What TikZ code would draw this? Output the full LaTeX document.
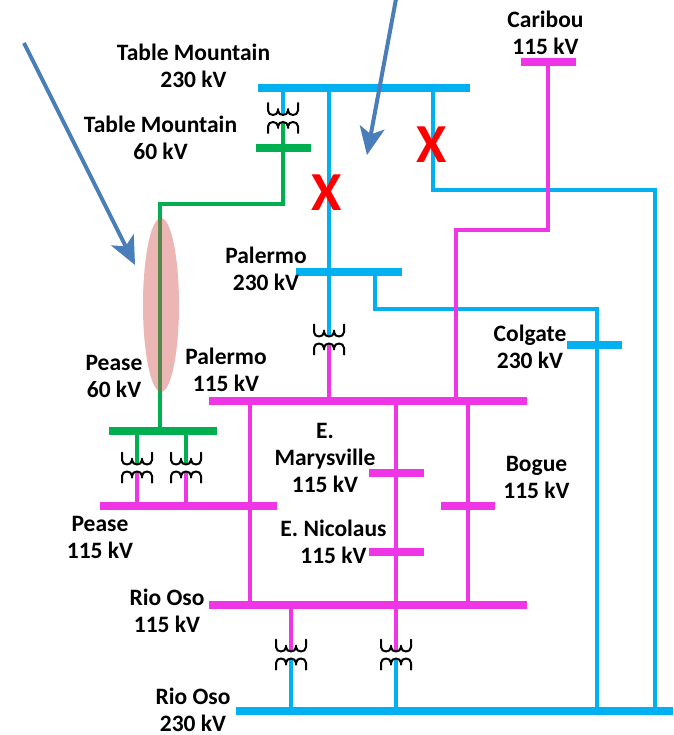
\documentclass[tikz,border=0pt]{standalone}
\usepackage{fontspec}
\setmainfont{Carlito}
\usetikzlibrary{arrows.meta,shapes.geometric}
\definecolor{cy}{HTML}{00B0F0}
\definecolor{gr}{HTML}{00B050}
\definecolor{mg}{HTML}{EE36E6}
\definecolor{bl}{HTML}{4A7EBB}
\definecolor{zonecol}{HTML}{D0504A}
\tikzset{
  bus/.style={rectangle,inner sep=0pt,minimum height=8pt,fill=#1},
  feeder/.style={draw=#1,line width=4pt,line join=miter},
  lbl/.style={font=\fontsize{23.5}{27}\selectfont\bfseries,align=center,inner sep=0pt,text=black},
  coil/.style={draw=black,line width=2pt,line cap=round,line join=round},
  pointer/.style={draw=bl,line width=4pt,-{Stealth[length=28pt,width=25pt,inset=7pt]}},
  cross/.style={font=\fontsize{55}{55}\selectfont\bfseries,text=red,inner sep=0pt},
  tfmr/.pic={
    \draw[coil] (-15,-15.5) -- (-15,-8) .. controls (-15,-2) and (-5,-2) .. (-5,-8) -- (-5,-9.5)
      (-5,-8) .. controls (-5,-2) and (5,-2) .. (5,-8) -- (5,-9.5)
      (5,-8) .. controls (5,-2) and (15,-2) .. (15,-8) -- (15,-15.5);
    \draw[coil] (-15,14.5) -- (-15,8) .. controls (-15,2) and (-5,2) .. (-5,8) -- (-5,9.5)
      (-5,8) .. controls (-5,2) and (5,2) .. (5,8) -- (5,9.5)
      (5,8) .. controls (5,2) and (15,2) .. (15,8) -- (15,14.5);
  }
}
\begin{document}
\begin{tikzpicture}[x=1pt,y=-1pt]
\useasboundingbox (0,0) rectangle (673,735);
% buses
\node[bus=cy,minimum width=212pt] (tm230) at (364,88) {};
\node[bus=gr,minimum width=55pt] (tm60) at (283.5,148) {};
\node[bus=mg,minimum width=55pt] (car) at (548.5,62) {};
\node[bus=cy,minimum width=106pt] (pal230) at (349,272) {};
\node[bus=cy,minimum width=55pt] (col) at (594.5,345) {};
\node[bus=mg,minimum width=318pt] (pal115) at (368,401) {};
\node[bus=gr,minimum width=108pt] (pe60) at (163,431) {};
\node[bus=mg,minimum width=177pt] (pe115) at (188.5,506) {};
\node[bus=mg,minimum width=55pt] (mar) at (396.5,473) {};
\node[bus=mg,minimum width=55pt] (nic) at (396.5,552) {};
\node[bus=mg,minimum width=54pt] (bog) at (468,506) {};
\node[bus=mg,minimum width=318pt] (rio115) at (368,605) {};
\node[bus=cy,minimum width=437pt] (rio230) at (454.5,711) {};
% junction coordinates at transformers
\coordinate (t1) at (283,118.5);
\coordinate (t2) at (329,340);
\coordinate (t3) at (137,468);
\coordinate (t4) at (186,468);
\coordinate (t5) at (291,655);
\coordinate (t6) at (396,655);
% cyan feeders
\draw[feeder=cy,shorten >=4pt] (283,0 |- tm230.center) -- (t1);
\draw[feeder=cy,shorten >=4pt] (329,0 |- tm230.center) -- (t2);
\draw[feeder=cy] (433,0 |- tm230.center) |- (655,190) -- (655,0 |- rio230.center);
\draw[feeder=cy] (375,0 |- pal230.center) |- (597,309) -- (597,0 |- rio230.center);
\draw[feeder=cy,shorten <=4pt] (t5) -- (291,0 |- rio230.center);
\draw[feeder=cy,shorten <=4pt] (t6) -- (396,0 |- rio230.center);
% magenta feeders
\draw[feeder=mg] (548,0 |- car.center) |- (456,230) -- (456,0 |- pal115.center);
\draw[feeder=mg,shorten <=4pt] (t2) -- (329,0 |- pal115.center);
\draw[feeder=mg] (250,0 |- pal115.center) -- (250,0 |- rio115.center);
\draw[feeder=mg,shorten >=4pt] (396,0 |- pal115.center) -- (t6);
\draw[feeder=mg] (468,0 |- pal115.center) -- (468,0 |- rio115.center);
\draw[feeder=mg,shorten >=4pt] (291,0 |- rio115.center) -- (t5);
\draw[feeder=mg,shorten <=4pt] (t3) -- (137,0 |- pe115.center);
\draw[feeder=mg,shorten <=4pt] (t4) -- (186,0 |- pe115.center);
% green feeders
\draw[feeder=gr,shorten <=4pt] (t1) -- (283,204) -| (160,0 |- pe60.center);
\draw[feeder=gr,shorten >=4pt] (137,0 |- pe60.center) -- (t3);
\draw[feeder=gr,shorten >=4pt] (186,0 |- pe60.center) -- (t4);
% transformers
\pic at (t1) {tfmr};
\pic at (t2) {tfmr};
\pic at (t3) {tfmr};
\pic at (t4) {tfmr};
\pic at (t5) {tfmr};
\pic at (t6) {tfmr};
% ellipse
\node[draw=none,fill=zonecol,fill opacity=.42,ellipse,minimum width=36pt,minimum height=174pt,inner sep=0pt] (zone) at (161,305) {};
% crosses
\node[cross] (x1) at (327,193) {X};
\node[cross] (x2) at (431.5,145) {X};
% arrows
\coordinate (a1s) at (24,43);
\coordinate (a1e) at (135,265);
\coordinate (a2s) at (396,-1);
\coordinate (a2e) at (367,155);
\draw[pointer] (a1s) -- (a1e);
\draw[pointer] (a2s) -- (a2e);
% labels
\node[lbl] (l1) at (193.5,65.5) {Table Mountain\\230 kV};
\node[lbl] (l2) at (160.5,137.5) {Table Mountain\\60 kV};
\node[lbl] (l3) at (545.5,32.5) {Caribou\\115 kV};
\node[lbl] (l4) at (266,268.5) {Palermo\\230 kV};
\node[lbl] (l5) at (530,346.5) {Colgate\\230 kV};
\node[lbl] (l6) at (114,376.5) {Pease\\60 kV};
\node[lbl] (l7) at (226,369.5) {Palermo\\115 kV};
\node[lbl] (l8) at (325,457.5) {E.\\Marysville\\115 kV};
\node[lbl] (l9) at (536.5,477.5) {Bogue\\115 kV};
\node[lbl] (l10) at (100,537.5) {Pease\\115 kV};
\node[lbl] (l11) at (333.5,541.5) {E. Nicolaus\\115 kV};
\node[lbl] (l12) at (167,610.5) {Rio Oso\\115 kV};
\node[lbl] (l13) at (193,710) {Rio Oso\\230 kV};
\end{tikzpicture}
\end{document}
